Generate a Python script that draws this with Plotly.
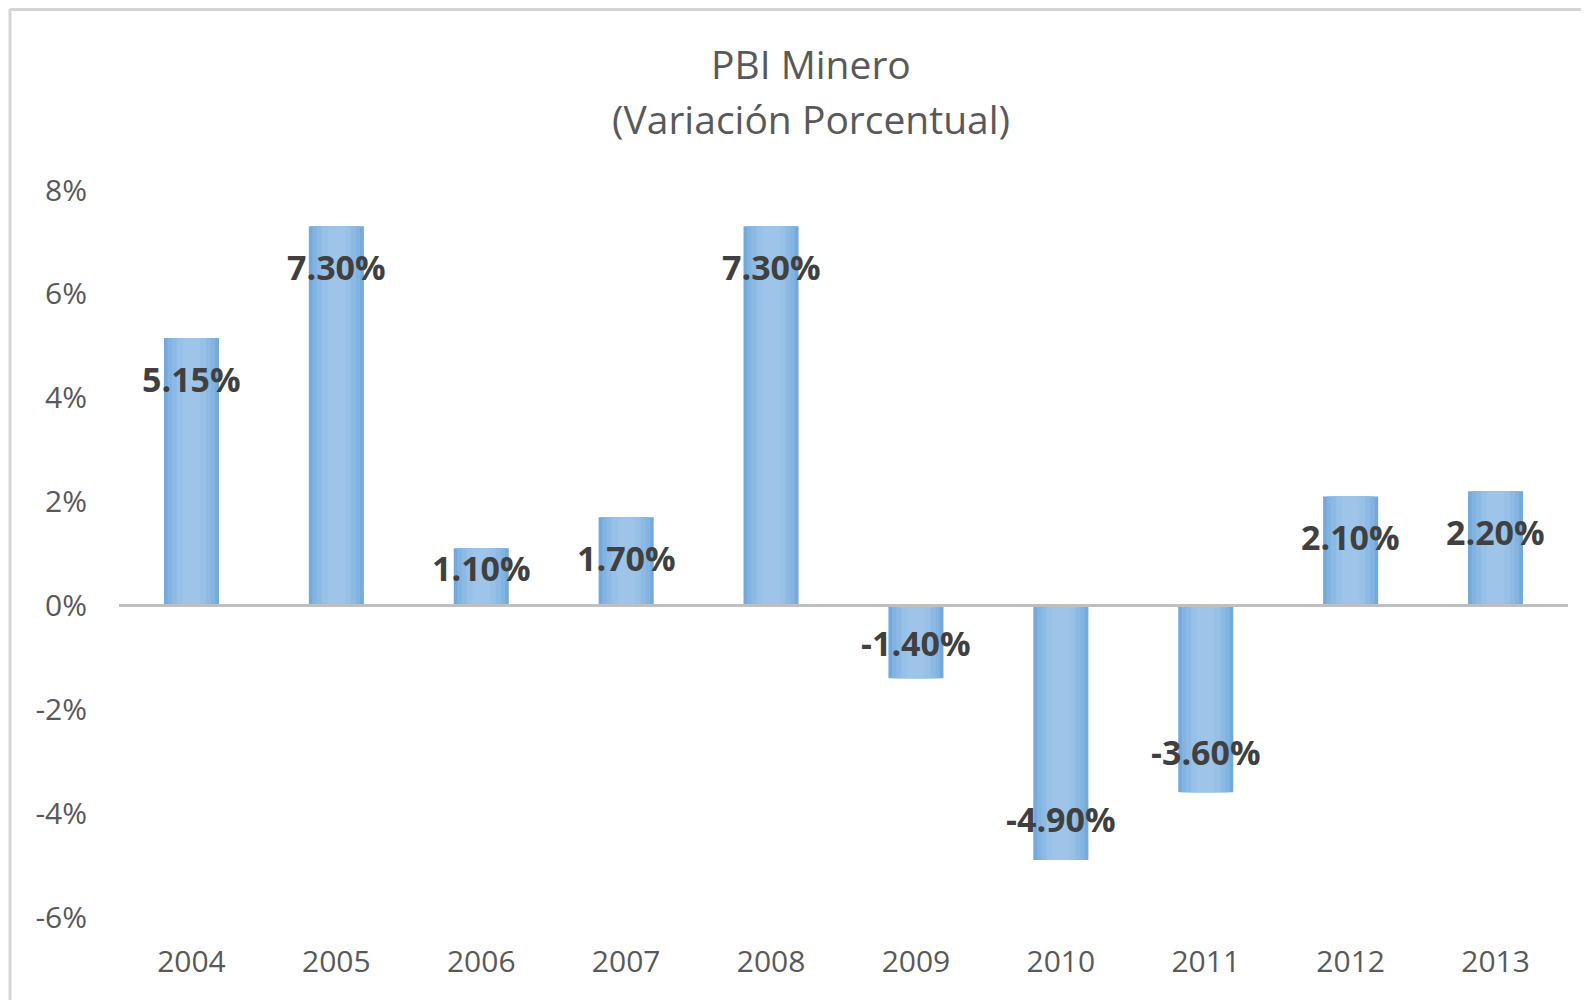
import plotly.graph_objects as go

years = ["2004", "2005", "2006", "2007", "2008", "2009", "2010", "2011", "2012", "2013"]
values = [5.15, 7.30, 1.10, 1.70, 7.30, -1.40, -4.90, -3.60, 2.10, 2.20]
label_texts = ["5.15%", "7.30%", "1.10%", "1.70%", "7.30%", "-1.40%", "-4.90%", "-3.60%", "2.10%", "2.20%"]
y_ticks = [-6, -4, -2, 0, 2, 4, 6, 8]
y_tick_labels = ["-6%", "-4%", "-2%", "0%", "2%", "4%", "6%", "8%"]

OFF = 8  # page body margin
W, H = 1589 - OFF, 1000 - OFF
ml, mr, mt, mb = 119 - OFF, 21, 190 - OFF, 83
plot_h = H - mt - mb
pw = W - ml - mr

fig = go.Figure()

# Simulated horizontal gradient: layered bars from wide/dark to narrow/light
layers = [(0.38, "#74A9DC"), (0.33, "#82B3E1"), (0.27, "#8DBAE5"), (0.20, "#98C1E8"), (0.12, "#9EC5E9")]
for w, c in layers:
    fig.add_trace(go.Bar(x=years, y=values, width=w, marker=dict(color=c, line=dict(width=0)),
                         hoverinfo="skip", showlegend=False))

fig.update_layout(barmode="overlay")

# data labels near the inside end of bars (x given as category index)
for i, (v, t) in enumerate(zip(values, label_texts)):
    sgn = 1 if v >= 0 else -1
    ly = sgn * max(abs(v) - 0.78, 0.72)
    fig.add_annotation(x=i, y=ly, text=t, showarrow=False,
                       font=dict(family="Open Sans", size=34, color="#404040", weight="bold"))

def py(p):
    return (H - mb - (p - OFF)) / plot_h

def px(p):
    return ((p - OFF) - ml) / pw

fig.add_annotation(xref="paper", yref="paper", x=px(811), y=py(64),
                   text="PBI Minero", showarrow=False, xanchor="center", yanchor="middle",
                   font=dict(family="Open Sans", size=39, color="#595959"))
fig.add_annotation(xref="paper", yref="paper", x=px(811), y=py(118),
                   text="(Variación Porcentual)", showarrow=False, xanchor="center", yanchor="middle",
                   font=dict(family="Open Sans", size=39, color="#595959"))

# zero line
fig.add_shape(type="line", xref="paper", yref="y", x0=0, x1=1, y0=0, y1=0,
              line=dict(color="#BFBFBF", width=3), layer="above")

# outer frame (left and top edges)
fig.add_shape(type="line", xref="paper", yref="paper",
              x0=px(10), x1=px(10), y0=py(9), y1=py(1010),
              line=dict(color="#D4D4D4", width=3))
fig.add_shape(type="line", xref="paper", yref="paper",
              x0=px(10), x1=px(1600), y0=py(9.5), y1=py(9.5),
              line=dict(color="#D4D4D4", width=3))

fig.update_xaxes(type="category", showgrid=False, zeroline=False, showline=False, ticks="",
                 tickfont=dict(family="Open Sans", size=30, color="#595959"),
                 ticklabelstandoff=24)
fig.update_yaxes(range=[-6, 8], tickvals=y_ticks, ticktext=y_tick_labels, showgrid=False,
                 zeroline=False, showline=False, ticks="",
                 tickfont=dict(family="Open Sans", size=30, color="#595959"),
                 ticklabelstandoff=31)

fig.update_layout(width=W, height=H, margin=dict(l=ml, r=mr, t=mt, b=mb),
                  paper_bgcolor="white", plot_bgcolor="white", showlegend=False)

fig.write_html("out.html")
